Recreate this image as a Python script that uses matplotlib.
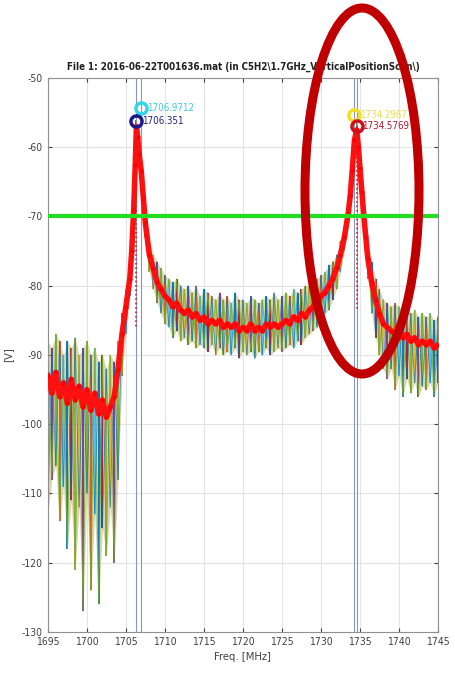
import matplotlib
matplotlib.use('Agg')
import matplotlib.pyplot as plt
import numpy as np
from matplotlib.patches import Ellipse

plt.rcParams['font.family'] = ['DejaVu Sans']
plt.rcParams['font.stretch'] = 'condensed'
plt.rcParams['axes.unicode_minus'] = False

# frequency points [MHz]
freq = [1695.0, 1695.5, 1696.0, 1696.5, 1697.0, 1697.5, 1698.0, 1698.5, 1699.0, 1699.5,
        1700.0, 1700.5, 1701.0, 1701.5, 1702.0, 1702.5, 1703.0, 1703.5, 1704.0, 1704.5,
        1705.0, 1705.5, 1705.75, 1706.0, 1706.2, 1706.35, 1706.5, 1706.7, 1706.97, 1707.25,
        1707.5, 1708.0, 1708.5, 1709.0, 1709.5, 1710.0, 1710.5, 1711.0, 1711.5, 1712.0,
        1712.5, 1713.0, 1713.5, 1714.0, 1714.5, 1715.0, 1715.5, 1716.0, 1716.5, 1717.0,
        1717.5, 1718.0, 1718.5, 1719.0, 1719.5, 1720.0, 1720.5, 1721.0, 1721.5, 1722.0,
        1722.5, 1723.0, 1723.5, 1724.0, 1724.5, 1725.0, 1725.5, 1726.0, 1726.5, 1727.0,
        1727.5, 1728.0, 1728.5, 1729.0, 1729.5, 1730.0, 1730.5, 1731.0, 1731.5, 1732.0,
        1732.5, 1733.0, 1733.5, 1733.75, 1734.0, 1734.29, 1734.58, 1734.8, 1735.0, 1735.25,
        1735.5, 1735.75, 1736.0, 1736.5, 1737.0, 1737.5, 1738.0, 1738.5, 1739.0, 1739.5,
        1740.0, 1740.5, 1741.0, 1741.5, 1742.0, 1742.5, 1743.0, 1743.5, 1744.0, 1744.5,
        1745.0]

# averaged (red) trace [V]
red = [-93, -95.5, -92.5, -96, -94, -97, -93.5, -96.5, -94.5, -97.5,
       -95, -98, -95.5, -98.5, -96.5, -99, -97.5, -96, -92, -87,
       -83, -79, -75, -69, -62.5, -57, -58.5, -61, -63.5, -67.5,
       -71, -75.5, -77.5, -79.5, -80.5, -81.5, -82, -83, -82.5, -83.5,
       -84, -83.5, -84.5, -84, -85, -84.5, -85.5, -85, -85.5, -85,
       -86, -85.5, -86, -85.5, -86.5, -86, -86.5, -85.5, -86.5, -86,
       -86.5, -85.5, -86, -85.5, -86, -85.5, -85, -85.5, -84.5, -85,
       -84, -84.5, -83.5, -83, -82.5, -81.5, -81, -80, -79, -77.5,
       -75.5, -73, -69.5, -67, -63.5, -59, -57.5, -60, -63, -66.5,
       -70, -73, -76, -79.5, -82, -84, -85.5, -86, -86.5, -87,
       -86.5, -87.5, -87, -88, -87.5, -88.5, -88, -88.5, -88, -89,
       -88.5]

# upper / lower envelope of the individual scans [V]
top = [-88, -89, -87, -88, -90, -88, -89, -87.5, -90, -89,
       -88, -90, -89, -91, -90, -92, -90, -91, -88, -84,
       -80.5, -77, -73.5, -67.5, -61, -56, -57, -59.5, -61, -66,
       -69.5, -73.5, -75.5, -76.5, -77.5, -78.5, -79, -79.5, -79, -80,
       -80.5, -80, -81, -80, -81.5, -80.5, -81, -81.5, -82, -81,
       -82, -81.5, -82.5, -81, -82, -82, -82.5, -81.5, -82, -82.5,
       -82, -81.5, -82, -81, -82, -81.5, -81, -81.5, -80.5, -81,
       -80.5, -80, -80, -79.5, -79, -78.5, -78, -77, -76.5, -75.5,
       -73.5, -71.5, -68, -65.5, -62, -57.5, -56.5, -58.5, -61.5, -65,
       -68, -71, -73.5, -76.5, -79, -80.5, -82, -82.5, -83, -82.5,
       -83, -83.5, -83, -84, -83.5, -84.5, -84, -84.5, -84, -85,
       -84.5]
bot = [-113, -108, -106, -114, -109, -118, -111, -121, -112, -127,
       -110, -124, -113, -126, -115, -119, -112, -120, -108, -93,
       -87, -81.5, -77, -71, -64.5, -59, -60.5, -63, -65.5, -69.5,
       -73, -78, -80.5, -82.5, -84, -85.5, -86, -87.5, -86.5, -88,
       -87.5, -88.5, -88, -89, -88.5, -89, -89.5, -88.5, -90, -89,
       -90, -89.5, -90, -89, -90.5, -89.5, -90, -89.5, -90.5, -89.5,
       -90, -89, -90, -89.5, -89, -89.5, -89, -88.5, -89, -88,
       -88.5, -87.5, -87, -86.5, -86, -85, -84, -83.5, -82, -80.5,
       -78, -75, -71.5, -69, -65.5, -61, -59, -62, -65, -69,
       -72.5, -76, -79, -84, -87.5, -90, -92, -93.5, -92, -95,
       -93, -96, -93.5, -95.5, -94, -96, -94.5, -95, -94, -96,
       -94]

# marker readouts
mark_f = [1706.9712, 1706.351, 1734.2967, 1734.5769]
mark_v = [-54.3, -56.2, -55.3, -57.0]
mark_txt = ['1706.9712', '1706.351', '1734.2967', '1734.5769']
mark_col = ['#33d6e6', '#1a1a8c', '#f0e020', '#cc1020']
txt_col = ['#40c8e0', '#202080', '#e8e040', '#b01830']

threshold = -70

freq = np.array(freq)
top = np.array(top)
bot = np.array(bot)

fig = plt.figure(figsize=(4.56, 6.83), dpi=100)
ax = fig.add_axes([0.105, 0.0747, 0.8555, 0.8111])

scan_cols = ['#edb120', '#7e2f8e', '#77ac30', '#d95319', '#4dbeee', '#0072bd', '#a2142f', '#a0a030']
ax.fill_between(freq, top, bot, color='#a8a850', alpha=0.45, lw=0)
ax.vlines(freq, top, bot, colors=[scan_cols[i % len(scan_cols)] for i in range(len(freq))], lw=1.3)
idx = np.arange(len(freq))
ax.plot(freq, np.where(idx % 2 == 0, top, bot), color='#77ac30', lw=0.7, alpha=0.85)
ax.plot(freq, np.where(idx % 2 == 1, top, bot), color='#0072bd', lw=0.6, alpha=0.7)

# averaged trace
ax.plot(freq, red, color='#ff1010', lw=4, zorder=3)
ax.plot(freq, red, '.', color='#ff0000', ms=4, zorder=3)

# peak cursors
for f in mark_f:
    ax.axvline(f, color='#8a96b8', lw=0.8, zorder=2)
ax.plot([mark_f[1], mark_f[1]], [-57, -86], ':', color='#d02020', lw=1.2, zorder=4)
ax.plot([mark_f[3], mark_f[3]], [-57, -83.5], ':', color='#d02020', lw=1.2, zorder=4)

ax.axhline(threshold, color='#22dd22', lw=3, zorder=5)

for f, v, t, mc, tc in zip(mark_f, mark_v, mark_txt, mark_col, txt_col):
    ax.plot(f, v, 'o', mfc='none', mec=mc, ms=8, mew=2.5, zorder=6)
    ax.text(f + 0.7, v, t, color=tc, fontsize=7, va='center', ha='left', zorder=6)

ax.set_xlim(1695, 1745)
ax.set_ylim(-130, -50)
ax.set_xticks(np.arange(1695, 1746, 5))
ax.set_yticks(np.arange(-130, -49, 10))
ax.grid(True, color='#e4e4e4', lw=0.8)
ax.set_axisbelow(True)
ax.tick_params(direction='in', labelsize=7.5, colors='#404040', top=True, right=True, length=3)
for s in ax.spines.values():
    s.set_color('#909090')
    s.set_linewidth(0.8)

ax.set_title('File 1: 2016-06-22T001636.mat (in C5H2\\1.7GHz_VerticalPositionScan\\)',
             fontsize=7, fontweight='bold', color='#202020', pad=6)
ax.set_xlabel('Freq. [MHz]', fontsize=8, color='#404040')
ax.set_ylabel('[V]', fontsize=8, color='#404040', labelpad=6)

# highlight ring
fig.add_artist(Ellipse((362 / 456, 1 - 191 / 683), 114 / 456, 366 / 683,
                       transform=fig.transFigure, fill=False, ec='#c00000', lw=6.5, zorder=10))

fig.savefig('out.png', dpi=100)
